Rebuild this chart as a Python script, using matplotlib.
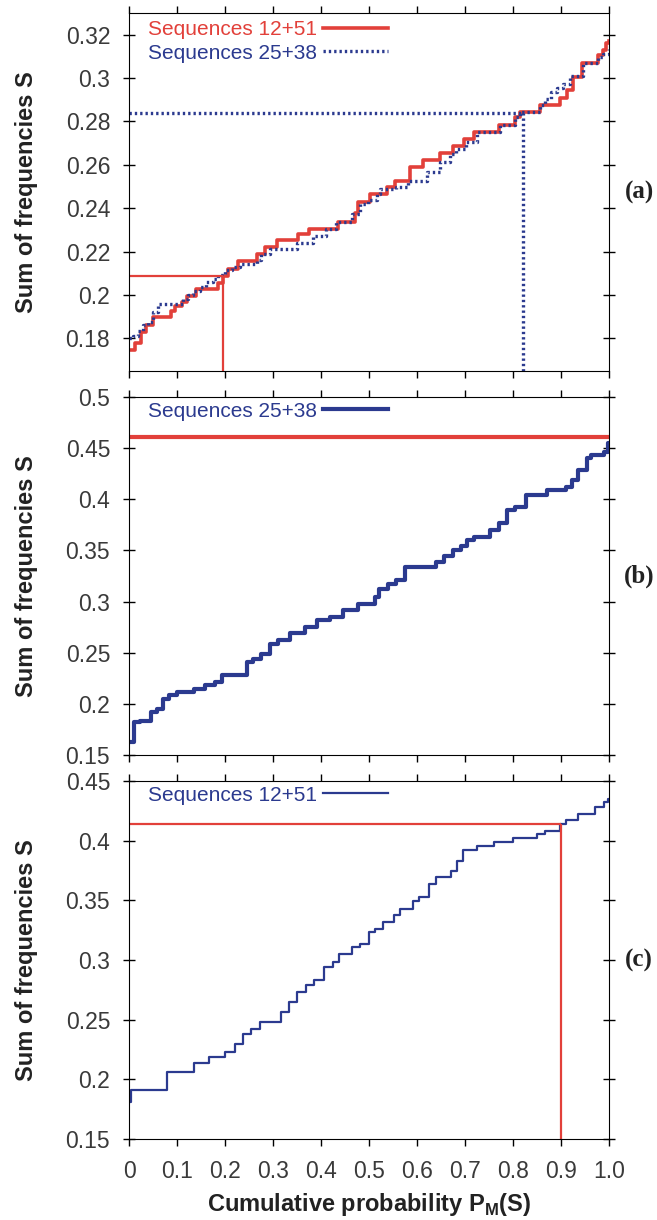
import numpy as np
import matplotlib
matplotlib.use("Agg")
import matplotlib.pyplot as plt

plt.rcParams['font.family'] = ['Liberation Sans', 'DejaVu Sans']
plt.rcParams['mathtext.fontset'] = 'custom'
plt.rcParams['mathtext.bf'] = 'Liberation Sans:bold'
plt.rcParams['mathtext.rm'] = 'Liberation Sans:bold'

RED = "#e2403a"
BLUE = "#2b3a8f"

# (a) sequências 12+51 e 25+38 (degraus, valor vale a partir de x)
a12_x = [0, 0.012, 0.025, 0.036, 0.05, 0.088, 0.095, 0.11, 0.12, 0.14, 0.186, 0.196,
         0.207, 0.228, 0.266, 0.283, 0.308, 0.353, 0.374, 0.436, 0.47, 0.478, 0.502,
         0.537, 0.554, 0.585, 0.612, 0.648, 0.676, 0.697, 0.718, 0.77, 0.804, 0.815,
         0.856, 0.898, 0.912, 0.926, 0.943, 0.978, 0.988, 0.994, 1.0]
a12_y = [0.1745, 0.178, 0.183, 0.186, 0.190, 0.1928, 0.195, 0.197, 0.1995, 0.2029,
         0.2055, 0.209, 0.212, 0.2155, 0.2187, 0.222, 0.2253, 0.228, 0.2305, 0.2335,
         0.238, 0.2428, 0.2466, 0.2497, 0.2528, 0.2589, 0.2623, 0.2654, 0.2685, 0.272,
         0.2751, 0.2786, 0.282, 0.2846, 0.2878, 0.2909, 0.2946, 0.3005, 0.307, 0.3105,
         0.3128, 0.3162, 0.317]
a25_x = [0, 0.008, 0.019, 0.029, 0.04, 0.05, 0.06, 0.113, 0.123, 0.134, 0.148, 0.161,
         0.175, 0.186, 0.2, 0.214, 0.231, 0.266, 0.276, 0.294, 0.35, 0.384, 0.411,
         0.432, 0.464, 0.481, 0.498, 0.516, 0.523, 0.557, 0.582, 0.62, 0.648, 0.669,
         0.682, 0.703, 0.724, 0.773, 0.804, 0.815, 0.856, 0.866, 0.88, 0.891, 0.905,
         0.918, 0.946, 0.977, 0.988, 1.0]
a25_y = [0.18, 0.1813, 0.1836, 0.186, 0.1874, 0.192, 0.196, 0.1982, 0.1998, 0.2021,
         0.2037, 0.206, 0.2075, 0.2091, 0.2114, 0.2129, 0.2145, 0.216, 0.2191, 0.2214,
         0.2238, 0.2273, 0.2305, 0.2335, 0.2374, 0.242, 0.2436, 0.2466, 0.2489, 0.2497,
         0.2528, 0.2566, 0.2612, 0.265, 0.2674, 0.2705, 0.275, 0.2786, 0.282, 0.2846,
         0.2878, 0.2905, 0.2935, 0.2955, 0.2974, 0.3008, 0.307, 0.3097, 0.3112, 0.3135]
a12_ref = (0.196, 0.2087)
a25_ref = (0.820, 0.2839)

# (b) sequências 25+38
b_x = [0, 0.01, 0.023, 0.045, 0.058, 0.071, 0.084, 0.101, 0.136, 0.158, 0.18, 0.193,
       0.246, 0.259, 0.276, 0.294, 0.311, 0.336, 0.367, 0.391, 0.419, 0.446, 0.477,
       0.512, 0.521, 0.54, 0.556, 0.576, 0.639, 0.656, 0.674, 0.691, 0.705, 0.718,
       0.753, 0.77, 0.788, 0.805, 0.827, 0.871, 0.91, 0.923, 0.936, 0.954, 0.962,
       0.989, 0.997, 1.0]
b_y = [0.1624, 0.182, 0.1837, 0.1918, 0.195, 0.2049, 0.2082, 0.2114, 0.2147, 0.218,
       0.2212, 0.2278, 0.2408, 0.2441, 0.249, 0.2588, 0.2621, 0.2688, 0.2753, 0.2818,
       0.2851, 0.2917, 0.2975, 0.3046, 0.3127, 0.3176, 0.3209, 0.3335, 0.3385, 0.3445,
       0.3505, 0.3545, 0.3600, 0.3634, 0.3695, 0.3765, 0.3895, 0.3928, 0.4042, 0.4092,
       0.4124, 0.419, 0.4288, 0.4402, 0.4435, 0.4467, 0.4549, 0.4549]
b_ref = 0.4605

# (c) sequências 12+51
c_x = [0, 0.005, 0.08, 0.136, 0.167, 0.2, 0.22, 0.237, 0.254, 0.272, 0.316, 0.333,
       0.35, 0.368, 0.385, 0.407, 0.425, 0.438, 0.464, 0.482, 0.499, 0.512, 0.53,
       0.552, 0.565, 0.591, 0.604, 0.626, 0.639, 0.67, 0.683, 0.696, 0.726, 0.761,
       0.8, 0.849, 0.866, 0.897, 0.91, 0.936, 0.971, 0.989, 0.997, 1.0]
c_y = [0.1812, 0.191, 0.2063, 0.2133, 0.2188, 0.223, 0.23, 0.2384, 0.2425, 0.2481,
       0.2565, 0.2648, 0.2732, 0.2788, 0.283, 0.2941, 0.2983, 0.3052, 0.3108, 0.3136,
       0.3234, 0.3261, 0.3317, 0.3373, 0.3429, 0.3498, 0.3526, 0.3638, 0.3693, 0.3749,
       0.3833, 0.3922, 0.3958, 0.3992, 0.4022, 0.4056, 0.4084, 0.4139, 0.4173, 0.4223,
       0.4279, 0.432, 0.4348, 0.4348]
c_ref = (0.9, 0.4139)

a_ticks = [0.18, 0.20, 0.22, 0.24, 0.26, 0.28, 0.30, 0.32]
bc_ticks = [0.15, 0.20, 0.25, 0.30, 0.35, 0.40, 0.45, 0.50]
x_ticks = np.arange(0, 1.01, 0.1)
x_labels = ["0", "0.1", "0.2", "0.3", "0.4", "0.5", "0.6", "0.7", "0.8", "0.9", "1.0"]


def fmt(v):
    s = "%.2f" % v
    return s.rstrip("0") if s.endswith("0") else s


fig = plt.figure(figsize=(6.57, 12.2), dpi=100)
left, width, height = 129 / 657, 480 / 657, 358 / 1220
ax_a = fig.add_axes([left, 1 - 371 / 1220, width, height])
ax_b = fig.add_axes([left, 1 - 755 / 1220, width, height])
ax_c = fig.add_axes([left, 1 - 1139 / 1220, width, height])


def style(ax, ylim, yticks, tag):
    ax.set_xlim(0, 1)
    ax.set_ylim(*ylim)
    ax.set_xticks(x_ticks)
    ax.set_yticks(yticks)
    ax.set_yticklabels([fmt(v) for v in yticks])
    ax.tick_params(axis='x', direction='out', length=5, top=True, width=1,
                   labelsize=16.5, labelcolor='#3a3a3a', pad=10)
    ax.tick_params(axis='y', direction='inout', length=9, right=True, width=1,
                   labelsize=16.5, labelcolor='#3a3a3a', pad=9)
    ax.set_xticklabels([])
    ax.set_ylabel("Sum of frequencies S", fontsize=17, fontweight='bold', color='#222222')
    ax.yaxis.set_label_coords(-0.19, 0.5)
    ax.text(1.063, 0.5, tag, transform=ax.transAxes, fontsize=18, fontweight='bold',
            family=['Liberation Serif', 'DejaVu Serif'], ha='center', va='center',
            color='#222222')


def legend(ax, color, top):
    leg = ax.legend(loc='upper left', bbox_to_anchor=(0.035, top), frameon=False,
                    markerfirst=False, fontsize=15, handlelength=3.1, handletextpad=0.3,
                    labelspacing=0.2, borderpad=0.1, borderaxespad=0)
    for t, c in zip(leg.get_texts(), color):
        t.set_color(c)


# painel (a)
style(ax_a, (0.165, 0.330), a_ticks, "(a)")
ax_a.plot(a12_x, a12_y, drawstyle='steps-post', color=RED, lw=2.6, label="Sequences 12+51")
ax_a.plot(a25_x, a25_y, drawstyle='steps-post', color=BLUE, lw=2.4,
          linestyle=(0, (0.7, 0.9)), label="Sequences 25+38")
ax_a.hlines(a12_ref[1], 0, a12_ref[0], color=RED, lw=1.6)
ax_a.vlines(a12_ref[0], 0.165, a12_ref[1], color=RED, lw=1.6)
ax_a.hlines(a25_ref[1], 0, a25_ref[0], color=BLUE, lw=2.4, linestyle=(0, (0.7, 0.9)))
ax_a.vlines(a25_ref[0], 0.165, a25_ref[1], color=BLUE, lw=2.4, linestyle=(0, (0.7, 0.9)))
legend(ax_a, [RED, BLUE], 0.985)

# painel (b)
style(ax_b, (0.15, 0.50), bc_ticks, "(b)")
ax_b.plot(b_x, b_y, drawstyle='steps-post', color=BLUE, lw=3, label="Sequences 25+38")
ax_b.axhline(b_ref, color=RED, lw=3)
legend(ax_b, [BLUE], 0.993)

# painel (c)
style(ax_c, (0.15, 0.45), bc_ticks[:-1], "(c)")
ax_c.plot(c_x, c_y, drawstyle='steps-post', color=BLUE, lw=1.6, label="Sequences 12+51")
ax_c.hlines(c_ref[1], 0, c_ref[0], color=RED, lw=1.6)
ax_c.vlines(c_ref[0], 0.15, c_ref[1], color=RED, lw=1.6)
legend(ax_c, [BLUE], 0.993)
ax_c.set_xticklabels(x_labels)
ax_c.set_xlabel(r"Cumulative probability P$_{\mathbf{M}}$(S)", fontsize=17,
                fontweight='bold', color='#222222')
ax_c.xaxis.set_label_coords(0.5, -0.145)

fig.savefig("out.png", dpi=100)
